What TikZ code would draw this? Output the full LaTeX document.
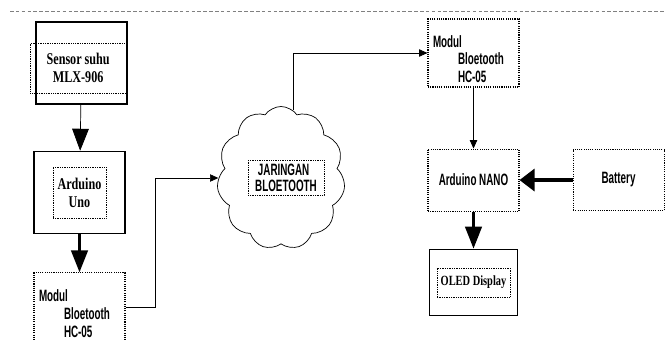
\documentclass[tikz,border=0pt]{standalone}
\usepackage{fontspec}
\setmainfont{Liberation Serif}
\setsansfont{Liberation Sans}
\newfontfamily\narrowsans[FakeStretch=0.6]{Liberation Sans}
\newfontfamily\narrowserif[FakeStretch=0.74]{Liberation Serif}
\usetikzlibrary{positioning,arrows.meta,shapes.symbols}

\begin{document}
\begin{tikzpicture}[align=center,
        solidbox/.style={draw, line width=1.3pt, minimum width=2.73cm, minimum height=2.46cm},
        dotbox/.style={draw, densely dotted, line width=0.9pt, minimum width=2.73cm},
        labelbox/.style={draw, densely dotted, line width=0.5pt, font=\narrowserif\bfseries\fontsize{14}{15.5}\selectfont},
        sans/.style={font=\narrowsans\bfseries\fontsize{14}{15}\selectfont},
        modul/.style={dotbox, sans, align=left, text width=2.43cm, inner xsep=0.15cm, inner ysep=0.05cm},
        bighead/.style={-{Triangle[width=0.5cm, length=0.66cm]}},
        smallhead/.style={-{Triangle[width=0.22cm, length=0.25cm]}}]

        \useasboundingbox (0,0) rectangle (19.95,-10.2);
        \coordinate (rule_left) at (0.3,-0.33);
        \coordinate (rule_right) at (19.95,-0.33);
        \draw[densely dashed, gray] (rule_left) -- (rule_right);

        % sending side
        \node [solidbox] (sensor) at (2.445,-1.89) {};
        \node [labelbox, minimum width=2.88cm, minimum height=1.5cm] (sensor_txt) at ([xshift=-0.1cm, yshift=-0.15cm]sensor.center) {Sensor suhu\\MLX-906};

        \node [solidbox, below=1.38cm of sensor, xshift=-0.06cm] (uno) {};
        \node [labelbox, minimum width=1.59cm, minimum height=1.53cm] (uno_txt) at (uno.center) {Arduino\\Uno};

        \node [modul, below=1.14cm of uno, minimum height=2.1cm] (bt_send) {\rule{0pt}{20pt}Modul\\\hspace*{0.75cm}Bloetooth\\\hspace*{0.75cm}HC-05};

        % network
        \node [cloud, draw, cloud puffs=11, cloud puff arc=110, cloud ignores aspect, line width=0.6pt, minimum width=3.84cm, minimum height=4.29cm] (cloud) at (8.43,-5.34) {};
        \node [labelbox, font=\narrowsans\bfseries\fontsize{14}{14}\selectfont, align=left, inner sep=1.5pt, minimum width=2.28cm, minimum height=1.05cm] (cloud_txt) at ([xshift=0.15cm]cloud.center) {\,JARINGAN\\BLOETOOTH};

        % receiving side
        \node [modul, minimum height=2.04cm] (bt_recv) at (14.205,-1.59) {\rule{0pt}{20pt}Modul\\\hspace*{0.75cm}Bloetooth\\\hspace*{0.75cm}HC-05};

        \node [dotbox, sans, below=1.83cm of bt_recv, minimum height=1.86cm] (nano) {Arduino NANO};
        \node [dotbox, sans, right=1.59cm of nano, minimum height=1.83cm] (battery) {Battery};

        \node [solidbox, below=1.11cm of nano, minimum width=2.64cm, minimum height=1.98cm] (oled) {};
        \node [labelbox, font=\narrowserif\bfseries\fontsize{12}{13}\selectfont, minimum width=2.13cm, minimum height=0.87cm] (oled_txt) at (oled.center) {OLED Display};

        \draw[line width=0.6pt, bighead] (sensor) -- (uno);
        \draw[line width=2.2pt, bighead] (uno) -- (bt_send);
        \draw[line width=0.6pt, smallhead] (bt_send.east) -- ++(0.9,0) |- (cloud.west);
        \draw[line width=0.6pt, smallhead] (cloud.80) |- (bt_recv.west);
        \draw[line width=0.6pt, smallhead] (bt_recv) -- (nano);
        \draw[line width=2.8pt, -{Triangle[width=0.66cm, length=0.45cm]}] (battery) -- (nano);
        \draw[line width=2.2pt, bighead] (nano) -- (oled);

    \end{tikzpicture}
\end{document}
